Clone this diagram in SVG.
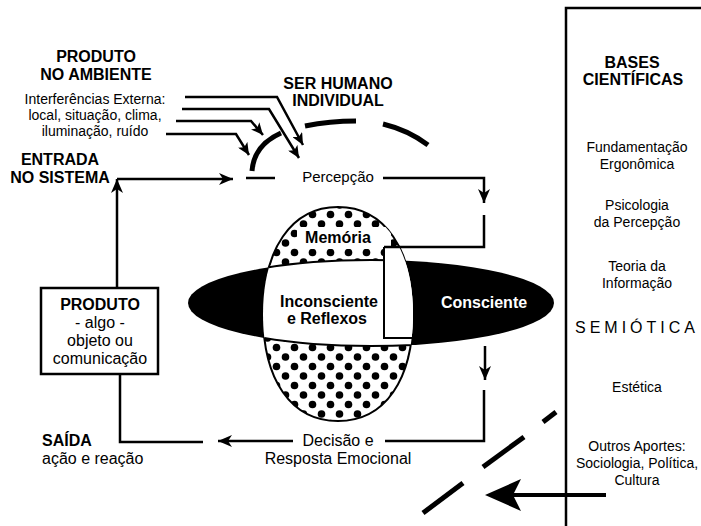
<svg xmlns="http://www.w3.org/2000/svg" width="701" height="526" viewBox="0 0 701 526">
<style>
text { font-family: "Liberation Sans", Arial, Helvetica, sans-serif; fill: #000; }
.b { font-weight: bold; font-size: 16px; }
.r { font-size: 16px; }
.m { font-size: 15px; }
.s { font-size: 14px; }
.c { text-anchor: middle; }
.ln { fill: none; stroke: #000; stroke-width: 2.5; }
.thin { fill: none; stroke: #000; stroke-width: 2; }
.thick { fill: none; stroke: #000; stroke-width: 5; }
</style>
<defs>
<marker id="ah" markerUnits="userSpaceOnUse" viewBox="0 0 14 12" refX="14" refY="6" markerWidth="14" markerHeight="12" orient="auto"><path d="M0,0 L14,6 L0,12 L4,6 z" fill="#000"/></marker>
<marker id="ahs" markerUnits="userSpaceOnUse" viewBox="0 0 12 11" refX="12" refY="5.5" markerWidth="12" markerHeight="11" orient="auto"><path d="M0,0 L12,5.5 L0,11 L3,5.5 z" fill="#000"/></marker>
<pattern id="dots" patternUnits="userSpaceOnUse" x="2" y="1" width="18" height="19"><circle cx="4.5" cy="4.5" r="3.8" fill="#000"/><circle cx="13.5" cy="14" r="3.8" fill="#000"/></pattern>
<path id="ovalShape" d="M338,207 C385,207 413,250 413,314 C413,380 385,421 338,421 C291,421 263,380 263,314 C263,250 291,207 338,207 Z"/>
<clipPath id="ovalClip"><path d="M338,207 C385,207 413,250 413,314 C413,380 385,421 338,421 C291,421 263,380 263,314 C263,250 291,207 338,207 Z"/></clipPath>
</defs>
<rect width="701" height="526" fill="#fff"/>

<g id="produto-ambiente">
<text class="b c" x="96" y="62">PRODUTO</text>
<text class="b c" x="96" y="80">NO AMBIENTE</text>
<text class="s c" x="95" y="104">Interferências Externa:</text>
<text class="s c" x="95" y="120">local, situação, clima,</text>
<text class="s c" x="95" y="136">iluminação, ruído</text>
</g>

<g id="ser-humano">
<text class="b c" x="338" y="89">SER HUMANO</text>
<text class="b c" x="338" y="106">INDIVIDUAL</text>
<path class="thick" d="M252,171 Q254,145 281,133"/>
<path class="thick" d="M305,126 Q330,121 356,121"/>
<path class="thick" d="M383,124 Q408,130 428,145"/>
</g>

<g id="entrada">
<text class="b c" x="60" y="165">ENTRADA</text>
<text class="b c" x="60" y="183">NO SISTEMA</text>
</g>

<g id="percepcao">
<text class="m c" x="338" y="182">Percepção</text>
</g>

<g id="mente">
<ellipse cx="371" cy="303" rx="183" ry="43" fill="#000"/>
<use href="#ovalShape" fill="#fff"/>
<use href="#ovalShape" fill="url(#dots)" stroke="#000" stroke-width="2"/>
<g clip-path="url(#ovalClip)">
<rect x="297" y="227" width="94" height="22" fill="#fff"/>
<ellipse cx="371" cy="303" rx="183" ry="43" fill="#fff" stroke="#000" stroke-width="2"/>
<rect x="384" y="247" width="40" height="91" fill="#fff"/>
</g>
<path class="thin" d="M384,247 V338 H412"/>
<text class="b c" x="338" y="243">Memória</text>
<text class="b c" x="329" y="307">Inconsciente</text>
<text class="b c" x="327" y="324">e Reflexos</text>
<text class="b c" x="484" y="308" style="fill:#fff">Consciente</text>
</g>

<g id="produto">
<rect x="41" y="288" width="117" height="86" fill="#fff" stroke="#000" stroke-width="2.5"/>
<text class="b c" x="100" y="310">PRODUTO</text>
<text class="r c" x="100" y="328">- algo -</text>
<text class="r c" x="100" y="346">objeto ou</text>
<text class="r c" x="100" y="364">comunicação</text>
</g>

<g id="saida">
<text class="b" x="42" y="446">SAÍDA</text>
<text class="r" x="42" y="464">ação e reação</text>
</g>

<g id="decisao">
<text class="r c" x="338" y="446">Decisão e</text>
<text class="r c" x="338" y="464">Resposta Emocional</text>
</g>

<g id="bases">
<path class="ln" d="M566,526 V8 H701"/>
<text class="b c" x="632" y="68">BASES</text>
<text class="b c" x="633" y="85">CIENTÍFICAS</text>
<text class="s c" x="637" y="152">Fundamentação</text>
<text class="s c" x="637" y="169">Ergonômica</text>
<text class="s c" x="637" y="210">Psicologia</text>
<text class="s c" x="637" y="227">da Percepção</text>
<text class="s c" x="637" y="271">Teoria da</text>
<text class="s c" x="637" y="288">Informação</text>
<text x="575" y="333" style="font-size:16px;letter-spacing:4px">SEMIÓTICA</text>
<text class="s c" x="637" y="392">Estética</text>
<text class="s c" x="637" y="451">Outros Aportes:</text>
<text class="s c" x="637" y="468">Sociologia, Política,</text>
<text class="s c" x="637" y="485">Cultura</text>
</g>

<g id="connectors">
<path class="ln" d="M185,97 H277 L303,145" marker-end="url(#ahs)"/>
<path class="ln" d="M182,109 H269 L299,158" marker-end="url(#ahs)"/>
<path class="ln" d="M176,121 H251 L263,135" marker-end="url(#ahs)"/>
<path class="ln" d="M166,134 H236 L249,155" marker-end="url(#ahs)"/>
<path class="ln" d="M117,288 V179" marker-end="url(#ah)"/>
<path class="ln" d="M117,179 H233" marker-end="url(#ah)"/>
<path class="ln" d="M246,178 H275"/>
<path class="ln" d="M383,178 H484 V203" marker-end="url(#ah)"/>
<path class="ln" d="M484,215 V247 H384"/>
<path class="ln" d="M485,346 V380" marker-end="url(#ah)"/>
<path class="ln" d="M484,390 V441 H385"/>
<path class="ln" d="M293,441 H218" marker-end="url(#ah)"/>
<path class="ln" d="M120,374 V442 H203"/>
<path class="thick" d="M556,412 L543,422"/>
<path class="thick" d="M524,437 L483,467"/>
<path class="thick" d="M463,483 L423,513"/>
<path fill="none" stroke="#000" stroke-width="4" d="M606,495 H512"/>
<path d="M485,495 L521,479 L513,495 L521,511 Z" fill="#000"/>
</g>
</svg>
